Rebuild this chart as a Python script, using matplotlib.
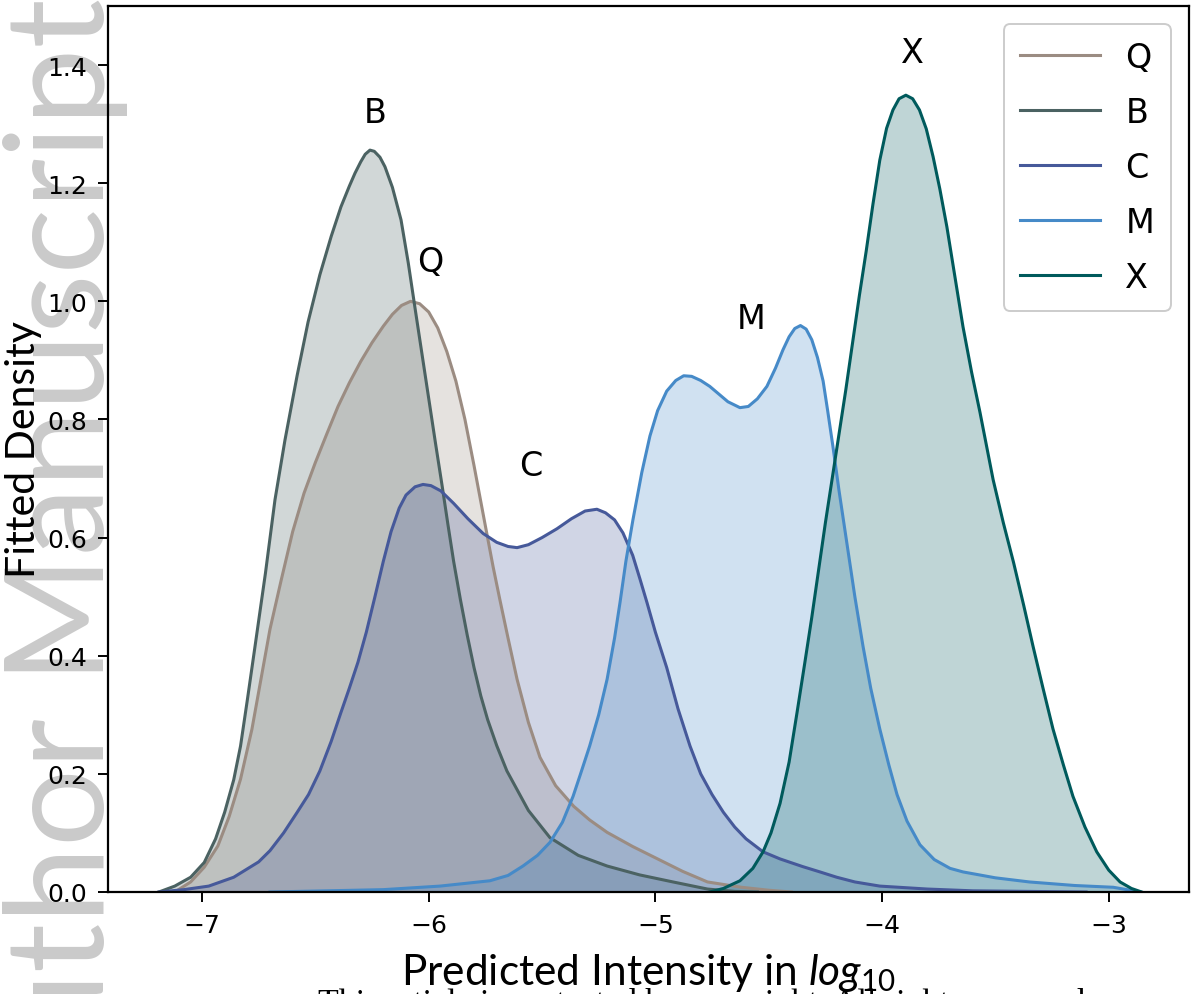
import matplotlib
matplotlib.use("Agg")
import matplotlib.pyplot as plt

# Fitted density curves, one (x, density) table per group
groups = ["Q", "B", "C", "M", "X"]
colors = ["#9b8c82", "#4b6262", "#46599a", "#468ac8", "#005a5c"]

q_x = [-7.12, -7.05, -6.99, -6.93, -6.88, -6.83, -6.78, -6.74, -6.70, -6.65, -6.60,
       -6.55, -6.50, -6.45, -6.40, -6.35, -6.30, -6.25, -6.20, -6.16, -6.12, -6.08,
       -6.04, -6.00, -5.96, -5.92, -5.88, -5.84, -5.80, -5.75, -5.716, -5.686, -5.65,
       -5.61, -5.56, -5.509, -5.44, -5.36, -5.29, -5.213, -5.10, -4.99, -4.88, -4.77,
       -4.62, -4.50, -4.40]
q_y = [0.0, 0.017, 0.042, 0.078, 0.128, 0.191, 0.275, 0.360, 0.445, 0.529, 0.610,
       0.675, 0.727, 0.775, 0.822, 0.862, 0.898, 0.930, 0.958, 0.978, 0.993, 1.0,
       0.996, 0.982, 0.955, 0.915, 0.865, 0.800, 0.722, 0.620, 0.551, 0.495, 0.430,
       0.360, 0.287, 0.228, 0.180, 0.145, 0.122, 0.101, 0.077, 0.056, 0.035, 0.017,
       0.008, 0.003, 0.0]

b_x = [-7.19, -7.12, -7.05, -6.99, -6.94, -6.90, -6.86, -6.83, -6.80, -6.766, -6.72,
       -6.678, -6.634, -6.58, -6.532, -6.48, -6.43, -6.387, -6.35, -6.325, -6.30,
       -6.28, -6.259, -6.24, -6.215, -6.193, -6.16, -6.122, -6.09, -6.06, -6.03,
       -6.00, -5.97, -5.94, -5.915, -5.89, -5.86, -5.83, -5.80, -5.77, -5.74, -5.70,
       -5.655, -5.56, -5.465, -5.34, -5.213, -5.07, -4.922, -4.77, -4.65, -4.55]
b_y = [0.0, 0.01, 0.025, 0.05, 0.09, 0.135, 0.19, 0.247, 0.325, 0.416, 0.540,
       0.664, 0.765, 0.875, 0.965, 1.045, 1.110, 1.160, 1.195, 1.217, 1.236,
       1.249, 1.256, 1.254, 1.244, 1.228, 1.193, 1.138, 1.065, 0.988, 0.912,
       0.836, 0.760, 0.686, 0.622, 0.560, 0.495, 0.435, 0.380, 0.332, 0.292, 0.248,
       0.205, 0.138, 0.092, 0.062, 0.044, 0.029, 0.017, 0.005, 0.001, 0.0]

c_x = [-7.19, -7.08, -6.97, -6.86, -6.75, -6.70, -6.64, -6.58, -6.53, -6.48, -6.43,
       -6.387, -6.35, -6.312, -6.275, -6.237, -6.20, -6.166, -6.13, -6.10, -6.06,
       -6.025, -5.99, -5.946, -5.89, -5.827, -5.76, -5.70, -5.65, -5.61, -5.56,
       -5.50, -5.434, -5.37, -5.31, -5.258, -5.22, -5.18, -5.143, -5.10, -5.068,
       -5.037, -5.00, -4.95, -4.90, -4.847, -4.80, -4.75, -4.70, -4.65, -4.60,
       -4.525, -4.45, -4.35, -4.274, -4.20, -4.12, -4.01, -3.80, -3.60, -3.35, -3.10]
c_y = [0.0, 0.004, 0.01, 0.025, 0.051, 0.070, 0.100, 0.135, 0.165, 0.205, 0.255,
       0.304, 0.345, 0.389, 0.440, 0.500, 0.560, 0.610, 0.650, 0.672, 0.686,
       0.690, 0.688, 0.679, 0.658, 0.632, 0.607, 0.592, 0.585, 0.583, 0.588,
       0.600, 0.615, 0.632, 0.645, 0.648, 0.642, 0.630, 0.608, 0.570, 0.530,
       0.490, 0.440, 0.380, 0.310, 0.247, 0.200, 0.165, 0.135, 0.110, 0.090,
       0.068, 0.056, 0.043, 0.034, 0.025, 0.017, 0.010, 0.005, 0.002, 0.001, 0.0]

m_x = [-6.70, -6.45, -6.20, -5.95, -5.73, -5.65, -5.584, -5.52, -5.465, -5.41,
       -5.363, -5.33, -5.29, -5.25, -5.213, -5.18, -5.156, -5.13, -5.099, -5.06,
       -5.024, -4.99, -4.95, -4.91, -4.875, -4.84, -4.80, -4.76, -4.72, -4.68,
       -4.627, -4.59, -4.55, -4.508, -4.47, -4.437, -4.41, -4.385, -4.36, -4.335,
       -4.31, -4.285, -4.26, -4.24, -4.217, -4.19, -4.155, -4.12, -4.084, -4.05,
       -4.01, -3.97, -3.934, -3.89, -3.833, -3.77, -3.70, -3.643, -3.50, -3.35,
       -3.15, -2.98, -2.86]
m_y = [0.0, 0.002, 0.004, 0.010, 0.019, 0.028, 0.044, 0.062, 0.084, 0.118,
       0.162, 0.200, 0.247, 0.300, 0.360, 0.430, 0.490, 0.560, 0.630, 0.710,
       0.772, 0.815, 0.848, 0.866, 0.874, 0.873, 0.866, 0.856, 0.843, 0.830,
       0.820, 0.822, 0.835, 0.856, 0.887, 0.918, 0.940, 0.954, 0.959, 0.953,
       0.935, 0.905, 0.865, 0.815, 0.755, 0.680, 0.590, 0.500, 0.416, 0.345,
       0.276, 0.215, 0.165, 0.120, 0.080, 0.055, 0.040, 0.034, 0.024, 0.017,
       0.011, 0.008, 0.0]

x_x = [-4.76, -4.70, -4.627, -4.57, -4.525, -4.49, -4.45, -4.41, -4.375, -4.34,
       -4.31, -4.28, -4.25, -4.22, -4.19, -4.16, -4.13, -4.10, -4.07, -4.04,
       -4.01, -3.98, -3.952, -3.925, -3.895, -3.865, -3.835, -3.805, -3.775, -3.745,
       -3.714, -3.68, -3.643, -3.605, -3.568, -3.51, -3.465, -3.42, -3.375, -3.334,
       -3.29, -3.246, -3.20, -3.158, -3.105, -3.053, -3.00, -2.95, -2.90, -2.855]
x_y = [0.0, 0.006, 0.019, 0.040, 0.068, 0.100, 0.150, 0.220, 0.304, 0.390,
       0.465, 0.545, 0.625, 0.700, 0.775, 0.850, 0.930, 1.010, 1.085, 1.165,
       1.239, 1.293, 1.324, 1.343, 1.349, 1.343, 1.324, 1.292, 1.245, 1.190,
       1.126, 1.045, 0.957, 0.880, 0.812, 0.698, 0.625, 0.558, 0.485, 0.416,
       0.345, 0.276, 0.215, 0.162, 0.110, 0.068, 0.037, 0.017, 0.006, 0.0]

curves_x = [q_x, b_x, c_x, m_x, x_x]
curves_y = [q_y, b_y, c_y, m_y, x_y]

# Group labels placed above each density peak
label_x = [-5.994, -6.237, -5.549, -4.578, -3.868]
label_y = [1.067, 1.320, 0.722, 0.971, 1.422]

x_ticks = [-7, -6, -5, -4, -3]
y_ticks = [0.0, 0.2, 0.4, 0.6, 0.8, 1.0, 1.2, 1.4]

plt.rcParams["mathtext.fontset"] = "custom"
plt.rcParams["mathtext.rm"] = "Lato"
plt.rcParams["mathtext.it"] = "Lato:italic"

W, H = 1192, 995
fig = plt.figure(figsize=(W / 100, H / 100), dpi=100)
fig.patch.set_facecolor("white")

# Journal watermark running up the left margin
fig.text(3 / W, 1 + 2 / H, "Author Manuscript", rotation=90, family="Lato",
         fontsize=99, color="#cacaca", ha="left", va="top", zorder=-5)
fig.text(318 / W, 1 - 1012 / H,
         "This article is protected by copyright. All rights reserved.",
         family="Liberation Serif", fontsize=24.4, color="black",
         ha="left", va="baseline")

ax = fig.add_axes([108 / W, 1 - 893 / H, (1189 - 108) / W, (893 - 7) / H])
ax.patch.set_visible(False)

for name, col, xs, ys in zip(groups, colors, curves_x, curves_y):
    ax.fill_between(xs, ys, 0, color=col, alpha=0.25, linewidth=0)
    ax.plot(xs, ys, color=col, linewidth=2.2, label=name)

for name, lx, ly in zip(groups, label_x, label_y):
    ax.text(lx, ly, name, fontsize=24, ha="center", va="center", color="black")

ax.set_xlim(-7.4146, -2.646)
ax.set_ylim(0, 1.5)
ax.set_xticks(x_ticks)
ax.set_yticks(y_ticks)
ax.tick_params(labelsize=18, length=7, width=1.4, pad=8)
for sp in ax.spines.values():
    sp.set_linewidth(1.6)

ax.set_xlabel("Predicted Intensity in $log_{10}$", family="Lato", fontsize=30.5, labelpad=10)
ax.set_ylabel("Fitted Density", family="Lato", fontsize=29.5, labelpad=4)

leg = ax.legend(loc="upper right", fontsize=24, handlelength=2.4, labelspacing=0.66,
                borderaxespad=0.55, borderpad=0.5, handletextpad=0.75,
                fancybox=True, framealpha=1)
leg.get_frame().set_edgecolor("#cccccc")
leg.get_frame().set_linewidth(1.4)

fig.savefig("out.png", dpi=100, facecolor="white")
